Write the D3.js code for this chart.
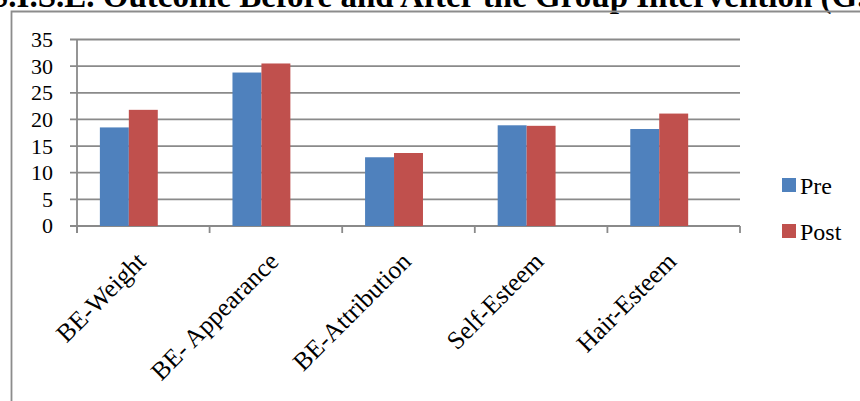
<!DOCTYPE html>
<html>
<head>
<meta charset="utf-8">
<script src="https://cdn.jsdelivr.net/npm/d3@7"></script>
<style>
  html, body { margin: 0; padding: 0; background: #fff; }
  svg { display: block; }
  text { font-family: "Liberation Serif", "Times New Roman", serif; fill: #000; }
</style>
</head>
<body>
<svg id="chart" width="860" height="401"></svg>
<script>
// Scores before and after the group intervention
const categories = ["BE-Weight", "BE- Appearance", "BE-Attribution", "Self-Esteem", "Hair-Esteem"];
const seriesNames = ["Pre", "Post"];
const preValues = [18.5, 28.8, 12.9, 18.9, 18.2];
const postValues = [21.8, 30.5, 13.7, 18.8, 21.1];
const yTicks = [0, 5, 10, 15, 20, 25, 30, 35];
const titleText = "S.I.S.E. Outcome Before and After the Group Intervention (G.I.)";

const colors = { Pre: "#4F81BD", Post: "#C0504D" };
const gridColor = "#8a8a8a";

const svg = d3.select("#chart");
const W = 860, H = 401;
svg.append("rect").attr("width", W).attr("height", H).attr("fill", "#fff");

// heading running along the top edge
svg.append("text")
  .attr("x", -10).attr("y", 7)
  .attr("font-size", 33).attr("font-weight", "bold")
  .text(titleText);

// chart frame
svg.append("path")
  .attr("d", `M11.5,${H + 5} V11.5 H${W + 5}`)
  .attr("fill", "none").attr("stroke", "#8c8c8c").attr("stroke-width", 1.8);

const plot = { left: 77, right: 740, top: 39.5, bottom: 226 };

const x0 = d3.scaleBand().domain(categories).range([plot.left, plot.right]);
// three slots per category; the first two hold Pre and Post
const x1 = d3.scaleBand().domain([0, 1, 2]).range([0, x0.bandwidth()]).paddingOuter(0.79);
const y = d3.scaleLinear().domain([0, 35]).range([plot.bottom, plot.top]);

// horizontal gridlines with left tick stubs
svg.append("g").selectAll("line").data(yTicks).join("line")
  .attr("x1", plot.left - 7).attr("x2", plot.right)
  .attr("y1", d => y(d)).attr("y2", d => y(d))
  .attr("stroke", gridColor).attr("stroke-width", 1.8);

// y axis
svg.append("line")
  .attr("x1", plot.left).attr("x2", plot.left)
  .attr("y1", y(35)).attr("y2", plot.bottom + 7)
  .attr("stroke", gridColor).attr("stroke-width", 1.8);

// x-axis tick marks at category boundaries
const boundaries = categories.map(c => x0(c)).concat([plot.right]);
svg.append("g").selectAll("line").data(boundaries).join("line")
  .attr("x1", d => d).attr("x2", d => d)
  .attr("y1", plot.bottom).attr("y2", plot.bottom + 7)
  .attr("stroke", gridColor).attr("stroke-width", 1.8);

// y tick labels
svg.append("g").selectAll("text").data(yTicks).join("text")
  .attr("x", 53).attr("y", d => y(d))
  .attr("dy", "0.34em")
  .attr("text-anchor", "end")
  .attr("font-size", 22)
  .text(d => d);

// bars
const rows = categories.map((c, i) => ({ cat: c, values: [preValues[i], postValues[i]] }));
const groups = svg.append("g").selectAll("g").data(rows).join("g")
  .attr("transform", d => `translate(${x0(d.cat)},0)`);
groups.selectAll("rect").data(d => d.values.map((v, k) => ({ k, v }))).join("rect")
  .attr("x", d => x1(d.k))
  .attr("width", x1.bandwidth())
  .attr("y", d => y(d.v))
  .attr("height", d => y(0) - y(d.v))
  .attr("fill", d => colors[seriesNames[d.k]]);

// rotated category labels
svg.append("g").selectAll("text").data(categories).join("text")
  .attr("transform", c => `translate(${x0(c) + x0.bandwidth() / 2 + 4},263) rotate(-45)`)
  .attr("text-anchor", "end")
  .attr("font-size", 25.5)
  .text(c => c);

// legend
const legend = svg.append("g").selectAll("g").data(seriesNames).join("g")
  .attr("transform", (d, i) => `translate(782,${178 + i * 46})`);
legend.append("rect").attr("width", 14).attr("height", 14).attr("fill", d => colors[d]);
legend.append("text").attr("x", 18).attr("y", 7).attr("dy", "0.36em")
  .attr("font-size", 24).text(d => d);
</script>
</body>
</html>
